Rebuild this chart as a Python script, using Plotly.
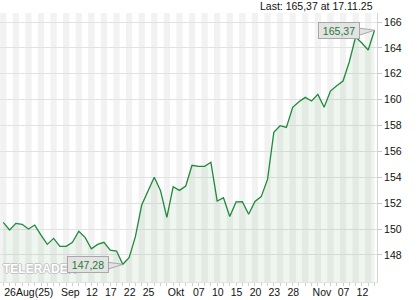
import plotly.graph_objects as go

# ---------------- data ----------------
dates = [
    "2025-08-26", "2025-08-27", "2025-08-28", "2025-08-29",
    "2025-09-01", "2025-09-02", "2025-09-03", "2025-09-04", "2025-09-05",
    "2025-09-08", "2025-09-09", "2025-09-10", "2025-09-11", "2025-09-12",
    "2025-09-15", "2025-09-16", "2025-09-17", "2025-09-18", "2025-09-19",
    "2025-09-22", "2025-09-23", "2025-09-24", "2025-09-25", "2025-09-26",
    "2025-09-29", "2025-09-30",
    "2025-10-01", "2025-10-02", "2025-10-03",
    "2025-10-06", "2025-10-07", "2025-10-08", "2025-10-09", "2025-10-10",
    "2025-10-13", "2025-10-14", "2025-10-15", "2025-10-16", "2025-10-17",
    "2025-10-20", "2025-10-21", "2025-10-22", "2025-10-23", "2025-10-24",
    "2025-10-27", "2025-10-28", "2025-10-29", "2025-10-30", "2025-10-31",
    "2025-11-03", "2025-11-04", "2025-11-05", "2025-11-06", "2025-11-07",
    "2025-11-10", "2025-11-11", "2025-11-12", "2025-11-13", "2025-11-14",
    "2025-11-17",
]

prices = [
    150.52, 149.93, 150.44, 150.37, 150.00, 150.31, 149.54, 148.82, 149.28, 148.67,
    148.67, 148.98, 149.83, 149.36, 148.48, 148.82, 148.98, 148.38, 148.30, 147.28,
    147.79, 149.41, 151.86, 152.94, 154.00, 152.96, 150.91, 153.27, 152.99, 153.33,
    154.93, 154.85, 154.85, 155.16, 152.17, 152.42, 150.97, 152.10, 152.11, 151.15,
    152.14, 152.51, 153.84, 157.48, 157.99, 157.86, 159.41, 159.84, 160.18, 159.90,
    160.41, 159.41, 160.67, 161.08, 161.44, 162.93, 164.84, 164.38, 163.84, 165.37,
]

tick_dates = [
    "2025-08-26", "2025-09-08", "2025-09-12", "2025-09-17", "2025-09-22",
    "2025-09-25", "2025-10-01", "2025-10-07", "2025-10-10", "2025-10-15",
    "2025-10-20", "2025-10-23", "2025-10-28", "2025-11-03", "2025-11-07",
    "2025-11-12",
]
tick_labels = [
    "26Aug(25)", "Sep", "12", "17", "22", "25", "Okt", "07", "10", "15",
    "20", "23", "28", "Nov", "07", "12",
]

y_ticks = [148, 150, 152, 154, 156, 158, 160, 162, 164, 166]
last_label = "Last: 165,37 at 17.11.25"

# ---------------- styles ----------------
LINE = "#1f8a3c"
TEXT_GREEN = "#1d7a36"
FONT = "Liberation Sans, Arial, sans-serif"
Y_RANGE = [145.91, 166.70]
X_RANGE = [-0.52, 59.4]

# trading-day positions on the x axis (one slot per trading day)
xpos = list(range(len(dates)))
pos_of = {d: i for i, d in enumerate(dates)}

fig = go.Figure()

# alternating day stripes (background)
shapes = []
for i in xpos:
    if i % 2 == 0:
        shapes.append(dict(type="rect", xref="x", yref="y",
                           x0=i - 0.5, x1=i + 0.5, y0=Y_RANGE[0], y1=Y_RANGE[1],
                           fillcolor="#f2f2f2", line=dict(width=0),
                           layer="below"))

fig.add_trace(go.Scatter(
    x=xpos, y=prices, mode="lines",
    line=dict(color=LINE, width=1.3),
    fill="tozeroy", fillcolor="rgba(40,120,40,0.075)",
    hoverinfo="skip", customdata=dates,
))

lab = {d: t for d, t in zip(tick_dates, tick_labels)}
ticktext = [lab.get(d, "") for d in dates]

fig.update_xaxes(
    range=X_RANGE, tickmode="array", tickvals=xpos, ticktext=ticktext,
    ticks="outside", ticklen=3, tickcolor="#cfcfcf", tickwidth=1,
    ticklabelposition="outside right", tickangle=0, automargin=False,
    showgrid=False, zeroline=False, showline=True, linecolor="#e4e4e4",
    tickfont=dict(family=FONT, size=10.5, color="#111"),
)
fig.update_yaxes(
    side="right", range=Y_RANGE, tickmode="array", tickvals=y_ticks,
    ticktext=[str(v) for v in y_ticks], automargin=False,
    ticks="outside", ticklen=4, tickcolor="#c8c8c8",
    showgrid=True, gridcolor="#e2e2e2", gridwidth=1,
    zeroline=False, showline=True, linecolor="#d4d4d4",
    tickfont=dict(family=FONT, size=10.5, color="#111"),
)

annotations = []
# watermark first so callouts sit on top
annotations.append(dict(
    x=0, y=0, xref="paper", yref="paper", xanchor="left", yanchor="bottom",
    text="<b>TELERADER</b>", showarrow=False, xshift=1, yshift=4,
    font=dict(family=FONT, size=12, color="#ffffff",
              shadow="1px 0 #c4c4c4, -1px 0 #c4c4c4, 0 1px #c4c4c4, 0 -1px #c4c4c4"),
))

# callout labels: min and last
imin = prices.index(min(prices))
ilast = len(prices) - 1
for idx in (imin, ilast):
    txt = f"{prices[idx]:.2f}".replace(".", ",")
    annotations.append(dict(
        x=xpos[idx], y=prices[idx], xref="x", yref="y",
        text=txt, showarrow=False, xanchor="right", yanchor="middle",
        xshift=-14, yshift=0, width=38, height=13,
        bgcolor="#e3e3e3", bordercolor="#a8a8a8", borderwidth=1, borderpad=1,
        font=dict(family=FONT, size=10.5, color=TEXT_GREEN),
    ))
    shapes.append(dict(
        type="path", xref="x", yref="y",
        xsizemode="pixel", ysizemode="pixel",
        xanchor=xpos[idx], yanchor=prices[idx],
        path="M 0 0 L -15 -5 L -15 2 Z",
        fillcolor="#e3e3e3", line=dict(color="#a8a8a8", width=1),
        layer="above",
    ))

annotations.append(dict(
    x=1, y=1, xref="paper", yref="paper", xanchor="right", yanchor="bottom",
    text=last_label, showarrow=False, xshift=-2, yshift=-1,
    font=dict(family=FONT, size=10.5, color="#111"),
))

fig.update_layout(
    width=420, height=300,
    margin=dict(l=0, r=43, t=13, b=18, pad=0),
    paper_bgcolor="#ffffff", plot_bgcolor="#ffffff",
    showlegend=False, shapes=shapes, annotations=annotations,
    font=dict(family=FONT, size=10.5, color="#111"),
)

fig.write_html("out.html")
